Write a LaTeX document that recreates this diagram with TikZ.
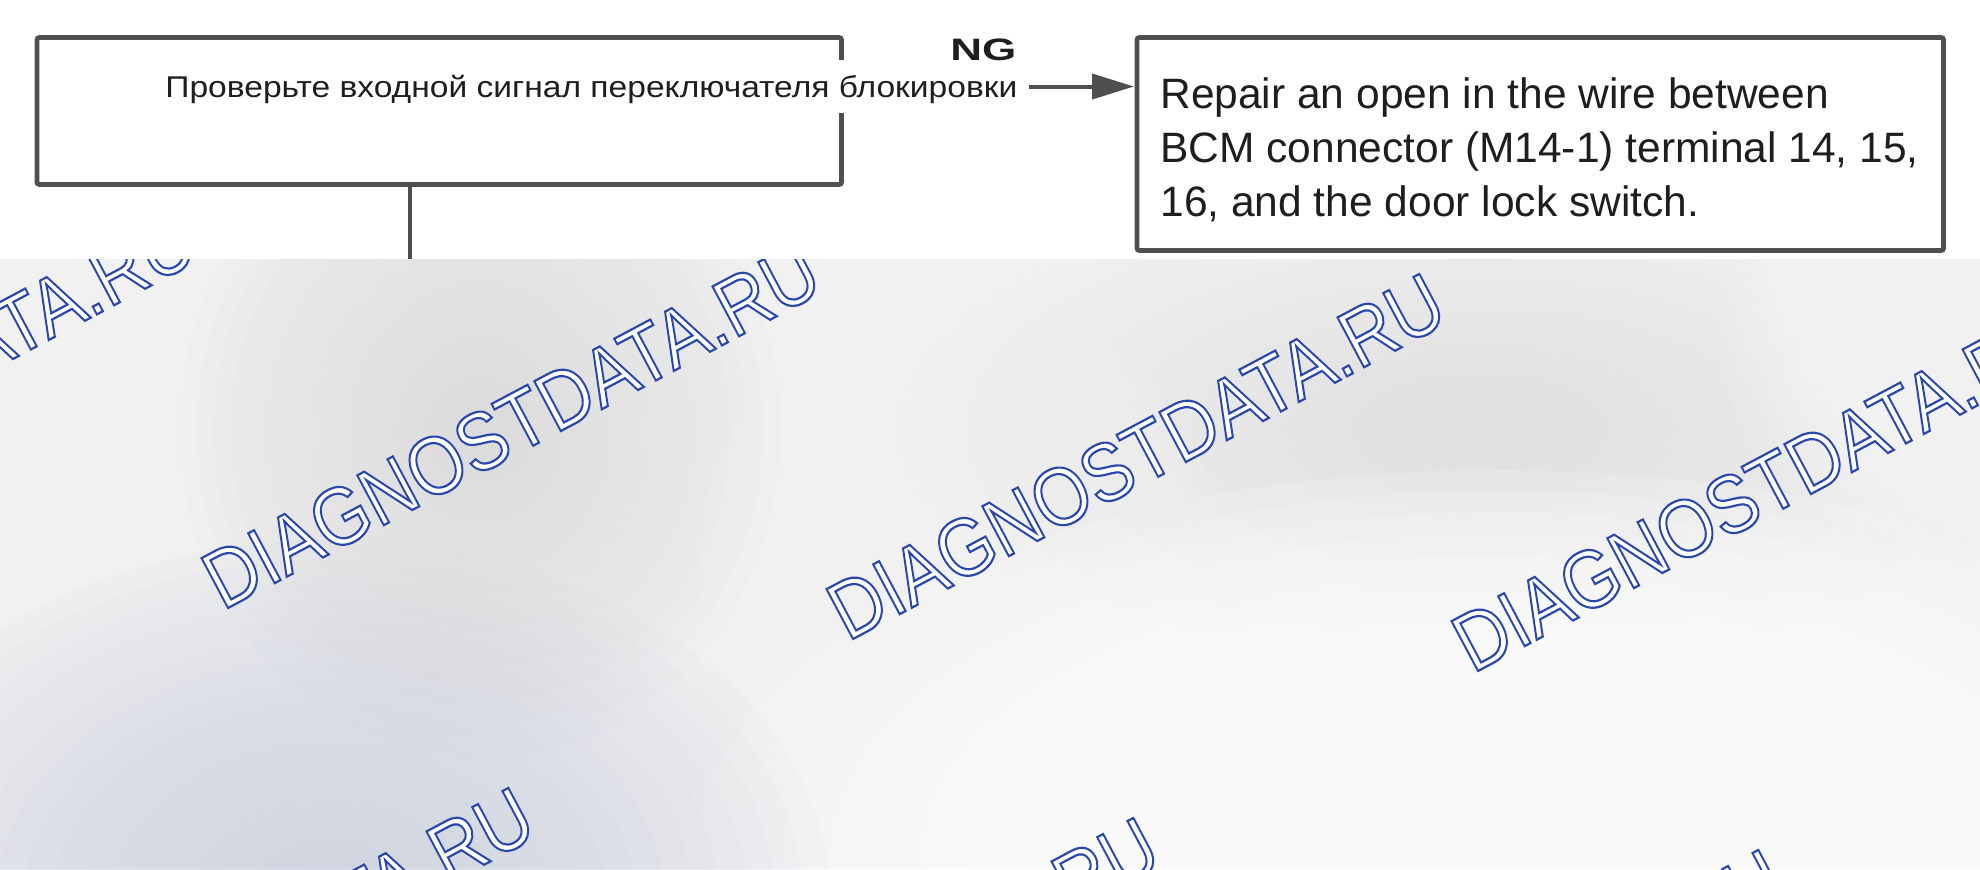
\documentclass[tikz,border=0pt]{standalone}
\usepackage{fontspec}
\setmainfont{Liberation Sans}
\usetikzlibrary{arrows.meta}
\definecolor{bord}{HTML}{4F4F4F}
\definecolor{txt}{HTML}{1E1E1E}
\definecolor{panel}{HTML}{F1F1F1}
\definecolor{bluegray}{HTML}{C9CFE0}
\definecolor{midgray}{HTML}{DCDCDC}
\definecolor{rgray}{HTML}{E0E0E0}
\newsavebox\myfitbox
\newlength\myfitlen
\newcommand\fitw[2]{\sbox\myfitbox{#2}\setlength\myfitlen{\wd\myfitbox}\pgfmathsetmacro\fitratio{#1/\myfitlen}\scalebox{\fitratio}[1]{\usebox\myfitbox}}
\newcommand\blob[6]{\foreach \k in {1,...,18}{\fill[#1, opacity=#6] (#2,#3) ellipse ({(19-\k)*#4/36*1pt} and {(19-\k)*#5/36*1pt});}}
\newcommand\wmtext{\scalebox{0.88}[1]{\color{white}\special{pdf:literal direct q 2 Tr 1.1 w 0.165 0.282 0.675 RG}DIAGNOSTDATA.RU\special{pdf:literal direct Q}}}
\begin{document}
\begin{tikzpicture}[x=0.5pt,y=-0.5pt,
  box/.style={draw=bord, line width=2.4pt, rounded corners=1.2pt, inner sep=0pt, outer sep=0pt, fill=white},
  conn/.style={draw=bord, line width=2.4pt},
  wm/.style={font=\fontsize{41pt}{44pt}\selectfont, text=white, rotate=28, anchor=south west, inner sep=0pt}]
\useasboundingbox (0,0) rectangle (1980,869);
\fill[panel] (0,0) rectangle (1980,869);
\begin{scope}
  \clip (0,259) rectangle (1980,869);
  \blob{midgray}{480}{430}{300}{330}{0.07}
  \blob{rgray}{1480}{430}{580}{250}{0.06}
  \blob{white}{1500}{850}{800}{380}{0.16}
  \blob{white}{960}{560}{260}{260}{0.05}
  \blob{white}{40}{430}{150}{320}{0.07}
  \blob{white}{1940}{330}{220}{220}{0.07}
  \blob{bluegray}{330}{900}{500}{360}{0.07}
\end{scope}
% watermarks
\node[wm] (wmA) at (-402,581) {\wmtext};
\node[wm] (wmB) at (223,612) {\wmtext};
\node[wm] (wmC) at (848,643) {\wmtext};
\node[wm] (wmD) at (1473,675) {\wmtext};
\node[wm] (wmE) at (-63,1157) {\wmtext};
\node[wm] (wmF) at (562,1187) {\wmtext};
\node[wm] (wmG) at (1187,1219) {\wmtext};
% white top layer
\fill[white] (0,0) rectangle (1980,259);
% flowchart
\node[box, anchor=north west, minimum width=402.25pt, minimum height=73.5pt] (lbox) at (37,37.5) {};
\node[box, anchor=north west, minimum width=403.25pt, minimum height=106.5pt] (rbox) at (1137,37.5) {};
\coordinate (vend) at (410,259);
\draw[conn] (lbox.south -| vend) -- (vend);
\node[anchor=base west, inner sep=0pt, fill=white, text height=18.5pt, text depth=8pt,
      font=\fontsize{15pt}{18pt}\selectfont, text=txt] (ltxt) at (165,97)
      {\fitw{426pt}{Проверьте входной сигнал переключателя блокировки}};
\node[anchor=base west, inner sep=0pt, font=\bfseries\fontsize{15.5pt}{17pt}\selectfont, text=txt] (ng) at (950,60) {\fitw{33pt}{NG}};
\draw[draw=bord, line width=2pt, -{Triangle[length=21pt,width=12.5pt]}, shorten <=5.5pt, shorten >=1.5pt]
  (ltxt.east) -- (ltxt.east -| rbox.west);
\node[anchor=base west, inner sep=0pt, font=\fontsize{21.25pt}{27pt}\selectfont, text=txt] (rtxt) at (1160,108)
  {\begin{tabular}[t]{@{}l@{}}Repair an open in the wire between\\BCM connector (M14-1) terminal 14, 15,\\16, and the door lock switch.\end{tabular}};
\end{tikzpicture}
\end{document}
